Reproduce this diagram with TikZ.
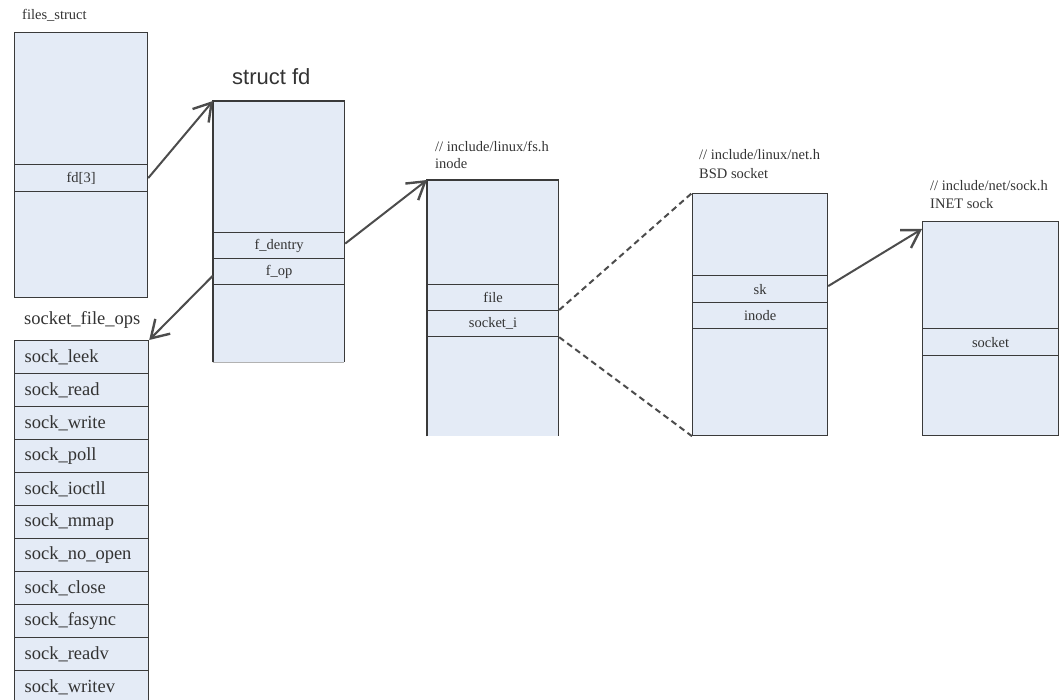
\documentclass[tikz,border=0pt]{standalone}
\usepackage{fontspec}
\setmainfont{Liberation Serif}
\newfontfamily\headfont{Liberation Sans}
\usetikzlibrary{arrows.meta}
\definecolor{boxfill}{HTML}{E4EBF6}
\definecolor{boxline}{HTML}{3A3A3A}
\definecolor{arrowgray}{HTML}{4C4C4C}
\definecolor{txt}{HTML}{333333}
\tikzset{
  boxbody/.style={draw=boxline, line width=1.2pt, fill=boxfill, inner sep=0pt, anchor=north west},
  boxplain/.style={fill=boxfill, inner sep=0pt, anchor=north west},
  field/.style={draw=boxline, line width=1.2pt, fill=boxfill, inner sep=0pt, anchor=north west,
    text=txt, font=\fontsize{14.5}{16}\selectfont},
  opsrow/.style={field, minimum width=134pt, minimum height=33pt, inner xsep=10pt, text width=114pt,
    align=left, font=\fontsize{18.5}{20}\selectfont},
  caption/.style={anchor=west, inner sep=0pt, text=txt, font=\fontsize{14.5}{16}\selectfont},
  ptr/.style={draw=arrowgray, line width=2pt,
    -{Straight Barb[length=17pt,width=21pt,line width=2.4pt]}},
  link/.style={draw=arrowgray, line width=2pt, dash pattern=on 6pt off 4pt}
}
\begin{document}
\begin{tikzpicture}[x=1pt,y=-1pt]
\useasboundingbox (0,0) rectangle (1062,700);
\clip (0,0) rectangle (1062,700);

% files_struct
\node[caption] (lblfiles) at (22,15) {files\_struct};
\node[boxbody, minimum width=133pt, minimum height=265pt] (files) at (14,32) {};
\node[field, minimum width=133pt, minimum height=27pt] (fd3) at (14,164) {fd[3]};

% struct fd
\node[anchor=west, inner sep=0pt, text=txt, font=\headfont\fontsize{22}{24}\selectfont] (lblfd) at (232,77) {struct fd};
\node[boxplain, minimum width=131pt, minimum height=261pt] (sfd) at (213,101) {};
\draw[boxline, line width=1.2pt] (sfd.south west) -- (sfd.north west) -- (sfd.north east) -- (sfd.south east);
\draw[gray!60, line width=1.2pt] (sfd.south west) -- (sfd.south east);
\node[field, minimum width=131pt, minimum height=26pt] (fdentry) at (213,232) {f\_dentry};
\node[field, minimum width=131pt, minimum height=26pt] (fop) at (213,258) {f\_op};

% socket_file_ops
\node[anchor=west, inner sep=0pt, text=txt, font=\fontsize{18.5}{20}\selectfont] (lblops) at (24,320) {socket\_file\_ops};
\foreach \name [count=\i from 0] in {sock\_leek, sock\_read, sock\_write, sock\_poll, sock\_ioctll,
    sock\_mmap, sock\_no\_open, sock\_close, sock\_fasync, sock\_readv, sock\_writev}
  \node[opsrow] (op\i) at (14,340+33*\i) {\name};

% inode
\node[caption] (lblfsh) at (435,147) {// include/linux/fs.h};
\node[caption] (lblinode) at (435,164) {inode};
\node[boxplain, minimum width=131pt, minimum height=256pt] (inode) at (427,180) {};
\draw[boxline, line width=1.2pt] (inode.south west) -- (inode.north west) -- (inode.north east) -- (inode.south east);
\node[field, minimum width=131pt, minimum height=26pt] (file) at (427,284) {file};
\node[field, minimum width=131pt, minimum height=26pt] (socki) at (427,310) {socket\_i};

% BSD socket
\node[caption] (lblneth) at (699,155) {// include/linux/net.h};
\node[caption] (lblbsd) at (699,174) {BSD socket};
\node[boxbody, minimum width=135pt, minimum height=242pt] (bsd) at (692,193) {};
\node[field, minimum width=135pt, minimum height=27pt] (sk) at (692,275) {sk};
\node[field, minimum width=135pt, minimum height=26pt] (bsdinode) at (692,302) {inode};

% INET sock
\node[caption] (lblsockh) at (930,186) {// include/net/sock.h};
\node[caption] (lblinet) at (930,204) {INET sock};
\node[boxbody, minimum width=136pt, minimum height=214pt] (inet) at (922,221) {};
\node[field, minimum width=136pt, minimum height=27pt] (socket) at (922,328) {socket};

% pointers
\draw[ptr] (fd3.east) -- (sfd.north west);
\draw[ptr] ([yshift=-4pt]fop.west) -- (op0.north east);
\draw[ptr] ([yshift=2pt]fdentry.east) -- (inode.north west);
\draw[ptr] ([yshift=3pt]sk.east) -- ([yshift=-8pt]inet.north west);

% the socket_i field expands into the BSD socket
\draw[link] (socki.north east) -- (bsd.north west);
\draw[link] (socki.south east) -- (bsd.south west);
\end{tikzpicture}
\end{document}
